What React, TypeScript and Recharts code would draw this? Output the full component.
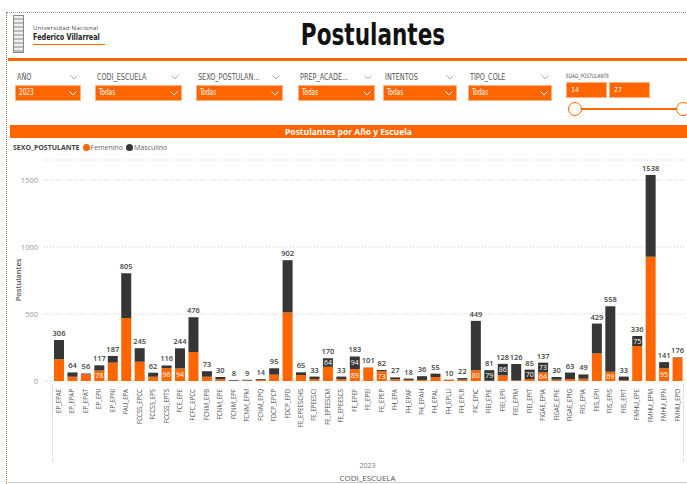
import { Bar, BarChart, CartesianGrid, LabelList, XAxis, YAxis } from "recharts";

const categories = [
  "EP_EPAE", "EP_EPAP", "EP_EPAT", "EP_EPII", "EP_EPNI", "FAU_EPA", "FCCSS_EPCC", "FCCSS_EPS",
  "FCCSS_EPTS", "FCE_EPE", "FCFC_EPCC", "FCNM_EPB", "FCNM_EPE", "FCNM_EPF", "FCNM_EPM", "FCNM_EPQ",
  "FDCP_EPCP", "FDCP_EPD", "FE_EPEESCHS", "FE_EPEESCI", "FE_EPEESCM", "FE_EPEESCS", "FE_EPEF",
  "FE_EPEI", "FE_EPEP", "FH_EPA", "FH_EPAF", "FH_EPAH", "FH_EPAL", "FH_EPLLI", "FH_EPLR", "FIC_EPIC",
  "FIEI_EPIE", "FIEI_EPII", "FIEI_EPIM", "FIEI_EPIT", "FIGAE_EPIA", "FIGAE_EPIE", "FIGAE_EPIG",
  "FIIS_EPIA", "FIIS_EPII", "FIIS_EPIS", "FIIS_EPIT", "FMHU_EPE", "FMHU_EPM", "FMHU_EPN", "FMHU_EPO",
];

const femenino = [
  162, 32, 50, 78, 137, 470, 144, 32, 96, 94, 216, 32, 14, 3, 4, 10, 47, 512, 45, 14, 106, 14, 89,
  100, 73, 12, 8, 8, 30, 8, 10, 80, 2, 42, 4, 15, 64, 10, 15, 17, 206, 69, 5, 261, 928, 95, 172,
];

const masculino = [
  144, 32, 6, 39, 50, 335, 101, 30, 20, 150, 260, 41, 16, 5, 5, 4, 48, 390, 20, 19, 64, 19, 94,
  1, 9, 15, 10, 28, 25, 2, 12, 369, 79, 86, 122, 70, 73, 20, 48, 32, 223, 489, 28, 75, 610, 46, 4,
];

const yTicks = [0, 500, 1000, 1500];
const filtros = ["AÑO", "CODI_ESCUELA", "SEXO_POSTULAN...", "PREP_ACADE...", "INTENTOS", "TIPO_COLE"];
const filtroValores = ["2023", "Todas", "Todas", "Todas", "Todas", "Todas"];
const edadRango = ["14", "27"];

const ORANGE = "#ff6600";
const DARK = "#363636";
const NARROW = '"Liberation Sans Narrow", "DejaVu Sans Condensed", sans-serif';
const SANS = '"Open Sans", "Noto Sans", sans-serif';

const data = categories.map((escuela, i) => ({
  escuela,
  Femenino: femenino[i],
  Masculino: masculino[i],
}));

// filter boxes: left / width
const filtroPos = [
  [16, 64],
  [96, 85],
  [197, 85],
  [299, 75],
  [384, 72],
  [469, 82],
];

function XTick({ x, y, payload }: any) {
  return (
    <text
      x={x}
      y={y}
      transform={`rotate(-90, ${x}, ${y})`}
      textAnchor="end"
      dy="0.35em"
      fontSize={6.5}
      letterSpacing={-0.2}
      fill="#555"
      fontFamily={SANS}
    >
      {payload.value}
    </text>
  );
}

// segment labels only where the slice fits and the number is small (as Power BI did)
function SegmentLabel(props: any) {
  const { x, y, width, height, value } = props;
  if (value < 60 || value >= 100 || height < 8) return null;
  return (
    <text
      x={x + width / 2}
      y={y + height / 2}
      textAnchor="middle"
      dominantBaseline="central"
      fontSize={7}
      fill="#fff"
      fontFamily={SANS}
    >
      {value}
    </text>
  );
}

function TotalLabel(props: any) {
  const { x, y, width, index } = props;
  const total = femenino[index] + masculino[index];
  return (
    <text
      x={x + width / 2}
      y={y - 4}
      textAnchor="middle"
      fontSize={7.5}
      fontWeight={600}
      fill="#444"
      fontFamily={SANS}
    >
      {total}
    </text>
  );
}

function Chevron({ color, left, top }: { color: string; left: number; top: number }) {
  return (
    <svg width={8} height={5} style={{ position: "absolute", left, top }}>
      <polyline points="0.5,0.5 4,4 7.5,0.5" fill="none" stroke={color} strokeWidth={1} />
    </svg>
  );
}

const narrowText = {
  fontFamily: NARROW,
  transform: "scaleX(0.8)",
  transformOrigin: "left center",
  whiteSpace: "nowrap" as const,
  lineHeight: 1,
};

export default function App() {
  return (
    <div
      style={{
        position: "absolute",
        left: 0,
        top: 0,
        width: 687,
        height: 484,
        overflow: "hidden",
        background: "#fff",
        fontFamily: SANS,
      }}
    >
      {/* page frame */}
      <div style={{ position: "absolute", left: 6, top: 12, width: 700, height: 0, borderTop: "1px dotted #999" }} />
      <div style={{ position: "absolute", left: 6, top: 12, width: 0, height: 480, borderLeft: "1px dotted #b0784a" }} />

      {/* logo */}
      <div
        style={{
          position: "absolute",
          left: 13,
          top: 15,
          width: 9,
          height: 36,
          border: "1px solid #888",
          background: "repeating-linear-gradient(0deg, #bbb 0px, #bbb 2px, #eee 2px, #eee 4px)",
        }}
      />
      <div style={{ position: "absolute", left: 33, top: 25, fontSize: 6, lineHeight: 1, color: "#444", letterSpacing: 0.3 }}>
        Universidad Nacional
      </div>
      <div style={{ position: "absolute", left: 33, top: 33, fontSize: 9, fontWeight: 700, color: "#222", ...narrowText }}>
        Federico Villarreal
      </div>
      <div style={{ position: "absolute", left: 33, top: 44, width: 72, height: 1, background: ORANGE }} />

      {/* title */}
      <div
        style={{
          position: "absolute",
          left: 373,
          top: 20,
          fontSize: 30,
          fontWeight: 700,
          fontFamily: NARROW,
          color: "#111",
          lineHeight: 1,
          whiteSpace: "nowrap",
          transform: "translateX(-50%) scaleX(0.8)",
        }}
      >
        Postulantes
      </div>
      <div style={{ position: "absolute", left: 8, top: 58, width: 679, height: 3, background: ORANGE }} />

      {/* slicers */}
      {filtros.map((f, i) => {
        const [left, w] = filtroPos[i];
        return (
          <div key={f}>
            <div style={{ position: "absolute", left: left + 1, top: 73, fontSize: 9, color: "#555", ...narrowText }}>
              {f}
            </div>
            <Chevron color="#aaa" left={left + w - 10} top={75} />
            <div
              style={{
                position: "absolute",
                left,
                top: 86,
                width: w,
                height: 14,
                background: ORANGE,
                boxShadow: "0 0 0 1px #ffb080",
              }}
            />
            <div style={{ position: "absolute", left: left + 3, top: 89, fontSize: 8, color: "#fff", ...narrowText }}>
              {filtroValores[i]}
            </div>
            <Chevron color="#fff" left={left + w - 11} top={91} />
          </div>
        );
      })}
      <div style={{ position: "absolute", left: 566, top: 73, fontSize: 6, color: "#555", ...narrowText }}>
        EDAD_POSTULANTE
      </div>
      {edadRango.map((v, i) => (
        <div
          key={v}
          style={{
            position: "absolute",
            left: 567 + i * 43,
            top: 83,
            width: 39,
            height: 14,
            background: ORANGE,
            boxShadow: "0 0 0 1px #ffb080",
            color: "#fff",
            fontSize: 7,
            fontFamily: NARROW,
            lineHeight: "14px",
            paddingLeft: 4,
            boxSizing: "border-box",
          }}
        >
          {v}
        </div>
      ))}
      <div style={{ position: "absolute", left: 575, top: 108, width: 110, height: 2, background: ORANGE }} />
      <div
        style={{
          position: "absolute",
          left: 568,
          top: 102,
          width: 12,
          height: 12,
          borderRadius: 7,
          border: `1.5px solid ${ORANGE}`,
          background: "#fff",
        }}
      />
      <div
        style={{
          position: "absolute",
          left: 676,
          top: 102,
          width: 12,
          height: 12,
          borderRadius: 7,
          border: `1.5px solid ${ORANGE}`,
          background: "#fff",
        }}
      />

      {/* visual header */}
      <div
        style={{
          position: "absolute",
          left: 10,
          top: 125,
          width: 677,
          height: 13,
          background: ORANGE,
          color: "#fff",
          fontSize: 8.5,
          fontWeight: 700,
          lineHeight: "13px",
          textAlign: "center",
        }}
      >
        Postulantes por Año y Escuela
      </div>

      {/* legend */}
      <div style={{ position: "absolute", left: 13, top: 143, fontSize: 7, color: "#444", display: "flex", alignItems: "center" }}>
        <span style={{ fontWeight: 700, marginRight: 3 }}>SEXO_POSTULANTE</span>
        <span style={{ width: 7, height: 7, borderRadius: 4, background: ORANGE, display: "inline-block", marginRight: 1 }} />
        <span style={{ color: "#666", marginRight: 3 }}>Femenino</span>
        <span style={{ width: 7, height: 7, borderRadius: 4, background: DARK, display: "inline-block", marginRight: 1 }} />
        <span style={{ color: "#666" }}>Masculino</span>
      </div>

      {/* y axis title */}
      <div
        style={{
          position: "absolute",
          left: 18,
          top: 280,
          fontSize: 7.5,
          fontWeight: 600,
          color: "#555",
          transform: "translate(-50%, -50%) rotate(-90deg)",
          whiteSpace: "nowrap",
        }}
      >
        Postulantes
      </div>

      <div style={{ position: "absolute", left: 0, top: 155 }}>
        <BarChart
          width={687}
          height={329}
          data={data}
          margin={{ top: 5, right: 3, left: 0, bottom: 43 }}
          barSize={10}
        >
          <CartesianGrid vertical={false} stroke="#d0d0d0" strokeDasharray="1 2" />
          <XAxis
            dataKey="escuela"
            interval={0}
            height={60}
            tickLine={false}
            axisLine={false}
            padding={{ left: 8, right: 0 }}
            tick={<XTick />}
          />
          <YAxis
            width={44}
            domain={[0, 1650]}
            ticks={yTicks}
            tickLine={false}
            axisLine={false}
            tickMargin={0}
            tick={{ fontSize: 7.5, fill: "#999", fontFamily: SANS }}
          />
          <Bar dataKey="Femenino" stackId="s" fill={ORANGE} isAnimationActive={false}>
            <LabelList dataKey="Femenino" content={<SegmentLabel />} />
          </Bar>
          <Bar dataKey="Masculino" stackId="s" fill={DARK} isAnimationActive={false}>
            <LabelList dataKey="Masculino" content={<SegmentLabel />} />
            <LabelList dataKey="Masculino" content={<TotalLabel />} />
          </Bar>
        </BarChart>
      </div>

      {/* hierarchy axis */}
      <div style={{ position: "absolute", left: 52, top: 384, width: 0, height: 78, borderLeft: "1px dotted #ccc" }} />
      <div style={{ position: "absolute", left: 683, top: 384, width: 0, height: 78, borderLeft: "1px dotted #ccc" }} />
      <div style={{ position: "absolute", left: 52, top: 461, width: 631, textAlign: "center", fontSize: 7, color: "#777" }}>
        2023
      </div>
      <div style={{ position: "absolute", left: 52, top: 472, width: 631, textAlign: "center", fontSize: 8, color: "#555" }}>
        CODI_ESCUELA
      </div>
      <div style={{ position: "absolute", left: 8, top: 482, width: 679, height: 1, background: "#ccc" }} />
    </div>
  );
}
